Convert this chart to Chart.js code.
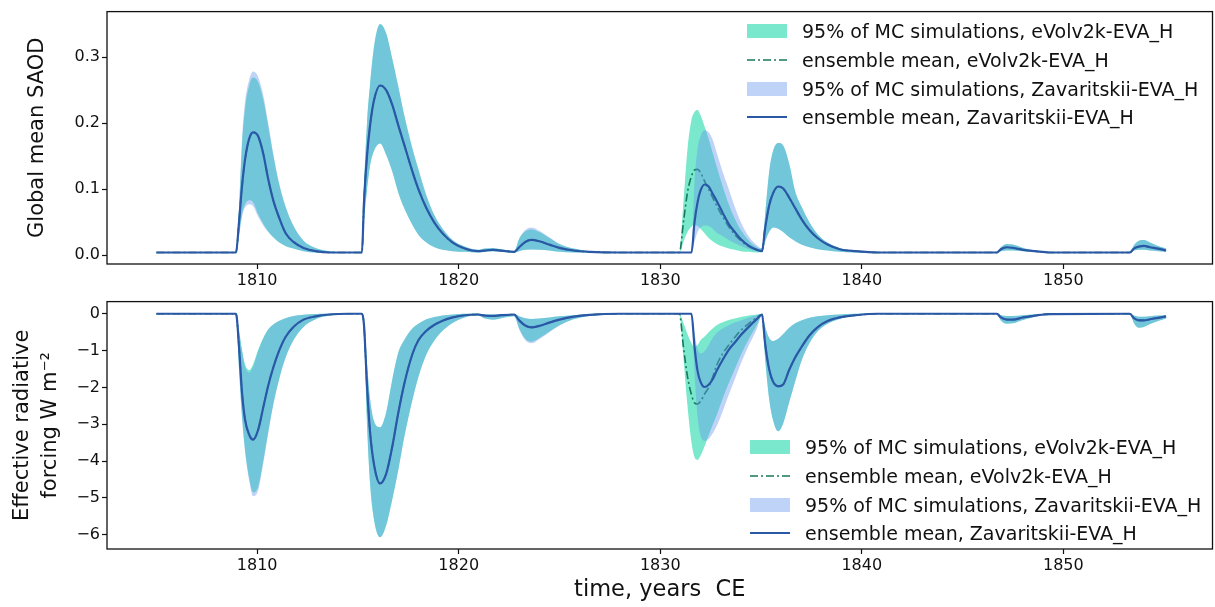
<!DOCTYPE html>
<html>
<head>
<meta charset="utf-8">
<script src="https://cdn.jsdelivr.net/npm/chart.js@4.4.1/dist/chart.umd.min.js"></script>
<style>
  html, body { margin: 0; padding: 0; background: #fff; }
  #wrap { position: relative; width: 1215px; height: 607px; font-family: 'DejaVu Sans', sans-serif; }
  canvas { position: absolute; left: 0; }
  #saod { top: 0; }
  #erf { top: 290px; }
  .lg-row { position: absolute; height: 28px; line-height: 28px; font-size: 19px; color: #111; white-space: nowrap; }
  .lg-row span { position: absolute; top: 0; }
  .lg-row .sw { position: absolute; top: 7px; width: 40px; height: 14px; }
</style>
</head>
<body>
<div id="wrap">
  <canvas id="saod" width="1215" height="290"></canvas>
  <canvas id="erf" width="1215" height="317"></canvas>
  <div id="legendTop"></div>
  <div id="legendBottom"></div>
</div>
<script>
// sample times (years CE), shared by both panels
const years = [
  1805.0, 1808.95, 1809.1, 1809.25, 1809.4, 1809.6, 1809.8, 1810.05, 1810.3, 1810.55, 1810.8, 1811.1, 1811.4, 1811.8, 1812.3, 1812.9, 1813.6, 1814.5,
  1815.2, 1815.3, 1815.45, 1815.6, 1815.8, 1816.1, 1816.4, 1816.7, 1817.0, 1817.3, 1817.7, 1818.0, 1818.4, 1818.8, 1819.2, 1819.7, 1820.3, 1820.95,
  1821.3, 1821.7, 1822.1, 1822.75,
  1823.0, 1823.3, 1823.6, 1824.0, 1824.5, 1825.0, 1825.7, 1826.5, 1828.0,
  1830.95, 1831.15, 1831.35, 1831.55, 1831.7, 1831.85, 1832.0, 1832.2, 1832.4, 1832.6, 1832.8, 1833.1, 1833.4, 1833.7, 1834.0, 1834.4, 1834.8,
  1835.05, 1835.2, 1835.4, 1835.6, 1835.85, 1836.1, 1836.4, 1836.7, 1837.0, 1837.4, 1837.8, 1838.3, 1838.9, 1839.7, 1840.8,
  1846.7, 1846.9, 1847.2, 1847.5, 1848.0, 1848.6, 1849.3,
  1853.3, 1853.5, 1853.75, 1854.0, 1854.3, 1854.7, 1855.1
];

const yearTicks = [1810, 1820, 1830, 1840, 1850];
const saodTicks = [0, 0.1, 0.2, 0.3];
const erfTicks = [-6, -5, -4, -3, -2, -1, 0];

const legendLabels = [
  '95% of MC simulations, eVolv2k-EVA_H',
  'ensemble mean, eVolv2k-EVA_H',
  '95% of MC simulations, Zavaritskii-EVA_H',
  'ensemble mean, Zavaritskii-EVA_H'
];

// --- global mean SAOD ---
const saodEvoUpper = [
  .004, .004, .070, .168, .222, .256, .269, .262, .236, .195, .151, .106, .074, .044, .022, .011, .006, .004,
  .004, .100, .200, .258, .316, .350, .336, .298, .256, .212, .162, .130, .090, .060, .040, .023, .013, .008,
  .010, .011, .009, .006,
  .025, .036, .039, .035, .026, .017, .010, .006, .004,
  .004, .080, .160, .205, .217, .220, .212, .195, .176, .155, .134, .104, .077, .055, .038, .022, .012,
  .010, .060, .125, .158, .170, .166, .138, .096, .074, .050, .032, .019, .011, .006, .004,
  .004, .012, .017, .016, .011, .007, .004,
  .004, .015, .022, .023, .019, .014, .010
];
const saodEvoLower = [
  .004, .004, .030, .062, .077, .083, .080, .062, .048, .036, .027, .019, .014, .010, .006, .004, .004, .004,
  .004, .050, .098, .135, .158, .169, .152, .127, .095, .071, .046, .031, .019, .012, .008, .006, .005, .004,
  .005, .006, .005, .004,
  .006, .008, .009, .008, .007, .005, .004, .004, .004,
  .004, .020, .035, .043, .046, .044, .040, .033, .026, .021, .017, .013, .010, .008, .006, .005, .004,
  .005, .020, .035, .042, .040, .035, .027, .021, .016, .012, .009, .007, .005, .004, .004,
  .004, .006, .007, .007, .006, .005, .004,
  .004, .007, .008, .008, .007, .006, .005
];
const saodEvoMean = [
  .004, .004, .050, .105, .145, .176, .186, .180, .154, .115, .083, .056, .034, .020, .011, .006, .004, .004,
  .004, .080, .150, .196, .235, .257, .250, .228, .197, .167, .127, .100, .071, .049, .033, .019, .010, .006,
  .007, .008, .007, .005,
  .012, .020, .023, .021, .016, .011, .007, .005, .004,
  .004, .050, .095, .120, .129, .130, .125, .112, .100, .087, .075, .058, .043, .031, .022, .013, .008,
  .006, .040, .075, .094, .104, .101, .087, .071, .055, .038, .026, .016, .009, .006, .004,
  .004, .009, .012, .011, .008, .006, .004,
  .004, .010, .013, .014, .012, .010, .007
];
const saodZavUpper = [
  .004, .004, .072, .175, .232, .265, .278, .270, .243, .200, .154, .108, .075, .045, .022, .011, .006, .004,
  .004, .100, .200, .258, .316, .350, .336, .298, .256, .212, .162, .130, .090, .060, .040, .023, .013, .008,
  .010, .011, .009, .006,
  .025, .038, .042, .037, .027, .017, .010, .006, .004,
  .004, .004, .004, .004, .110, .160, .180, .189, .186, .175, .155, .126, .100, .073, .050, .028, .015,
  .010, .060, .125, .158, .170, .166, .138, .096, .074, .050, .032, .019, .011, .006, .004,
  .004, .012, .017, .016, .011, .007, .004,
  .004, .015, .022, .023, .019, .014, .010
];
const saodZavLower = [
  .004, .004, .028, .058, .072, .077, .074, .058, .045, .035, .027, .019, .014, .010, .006, .004, .004, .004,
  .004, .050, .098, .135, .158, .169, .152, .127, .095, .071, .046, .031, .019, .012, .008, .006, .005, .004,
  .005, .006, .005, .004,
  .006, .008, .008, .008, .007, .005, .004, .004, .004,
  .004, .004, .004, .004, .020, .035, .042, .045, .044, .040, .034, .029, .023, .018, .014, .009, .006,
  .005, .020, .035, .042, .040, .035, .027, .021, .016, .012, .009, .007, .005, .004, .004,
  .004, .006, .007, .007, .006, .005, .004,
  .004, .007, .008, .008, .007, .006, .005
];
const saodZavMean = [
  .004, .004, .050, .105, .145, .176, .186, .180, .154, .115, .083, .056, .034, .020, .011, .006, .004, .004,
  .004, .080, .150, .196, .235, .257, .250, .228, .197, .167, .127, .100, .071, .049, .033, .019, .010, .006,
  .007, .008, .007, .005,
  .012, .020, .023, .021, .016, .011, .007, .005, .004,
  .004, .004, .004, .004, .050, .080, .098, .107, .104, .093, .082, .064, .047, .035, .024, .014, .008,
  .006, .040, .075, .094, .104, .101, .087, .071, .055, .038, .026, .016, .009, .006, .004,
  .004, .009, .012, .011, .008, .006, .004,
  .004, .010, .013, .014, .012, .010, .007
];

// --- effective radiative forcing, W m-2 ---
const erfEvoUpper = [
  0, 0, -0.45, -0.98, -1.38, -1.53, -1.37, -0.98, -0.66, -0.42, -0.29, -0.19, -0.12, -0.06, -0.03, -0.01, 0, 0,
  0, -0.25, -1.35, -2.30, -2.92, -3.08, -2.68, -1.80, -1.06, -0.71, -0.40, -0.27, -0.15, -0.09, -0.05, -0.02, 0, 0,
  -0.02, -0.02, -0.01, -0.01,
  -0.07, -0.12, -0.14, -0.13, -0.10, -0.07, -0.04, -0.01, 0,
  0, -0.25, -0.55, -0.80, -0.90, -0.85, -0.72, -0.62, -0.50, -0.40, -0.31, -0.23, -0.17, -0.13, -0.09, -0.05, -0.02,
  -0.01, -0.35, -0.65, -0.74, -0.68, -0.55, -0.38, -0.26, -0.18, -0.11, -0.07, -0.04, -0.02, 0, 0,
  0, -0.04, -0.06, -0.06, -0.04, -0.02, 0,
  0, -0.05, -0.08, -0.08, -0.07, -0.05, -0.04
];
const erfEvoLower = [
  0, 0, -1.50, -2.80, -3.70, -4.45, -4.85, -4.70, -4.00, -3.20, -2.45, -1.75, -1.20, -0.72, -0.36, -0.15, -0.05, 0,
  0, -0.50, -3.00, -4.60, -5.60, -6.07, -5.75, -5.05, -4.25, -3.35, -2.35, -1.72, -1.10, -0.72, -0.46, -0.25, -0.10, -0.04,
  -0.13, -0.16, -0.12, -0.07,
  -0.40, -0.68, -0.76, -0.66, -0.48, -0.31, -0.15, -0.06, 0,
  0, -1.20, -2.50, -3.50, -3.90, -3.97, -3.85, -3.60, -3.30, -3.02, -2.75, -2.30, -1.88, -1.50, -1.12, -0.68, -0.30,
  -0.05, -1.20, -2.30, -2.90, -3.19, -2.98, -2.40, -1.83, -1.29, -0.80, -0.48, -0.27, -0.14, -0.05, 0,
  0, -0.18, -0.27, -0.26, -0.17, -0.08, -0.02,
  0, -0.25, -0.38, -0.36, -0.28, -0.20, -0.13
];
const erfEvoMean = [
  0, 0, -0.90, -2.15, -2.88, -3.28, -3.42, -3.15, -2.55, -1.95, -1.46, -0.99, -0.64, -0.36, -0.16, -0.07, -0.02, 0,
  0, -0.30, -1.95, -3.20, -4.10, -4.61, -4.35, -3.62, -2.70, -1.90, -1.10, -0.72, -0.46, -0.30, -0.19, -0.10, -0.04, -0.02,
  -0.05, -0.06, -0.04, -0.02,
  -0.18, -0.32, -0.37, -0.33, -0.24, -0.16, -0.08, -0.03, 0,
  0, -0.90, -1.70, -2.20, -2.42, -2.45, -2.38, -2.18, -2.00, -1.72, -1.40, -1.08, -0.85, -0.64, -0.45, -0.26, -0.10,
  -0.02, -0.80, -1.50, -1.85, -1.97, -1.92, -1.52, -1.18, -0.91, -0.59, -0.37, -0.20, -0.10, -0.04, 0,
  0, -0.10, -0.16, -0.16, -0.10, -0.05, -0.01,
  0, -0.12, -0.18, -0.18, -0.15, -0.11, -0.07
];
const erfZavUpper = [
  0, 0, -0.47, -1.02, -1.44, -1.60, -1.43, -1.02, -0.68, -0.43, -0.29, -0.19, -0.12, -0.06, -0.03, -0.01, 0, 0,
  0, -0.25, -1.35, -2.30, -2.92, -3.08, -2.68, -1.80, -1.06, -0.71, -0.40, -0.27, -0.15, -0.09, -0.05, -0.02, 0, 0,
  -0.02, -0.02, -0.01, -0.01,
  -0.07, -0.12, -0.14, -0.13, -0.10, -0.07, -0.04, -0.01, 0,
  0, 0, 0, 0, -0.50, -0.95, -1.08, -1.02, -0.85, -0.66, -0.52, -0.40, -0.31, -0.24, -0.18, -0.10, -0.04,
  -0.01, -0.35, -0.65, -0.74, -0.68, -0.55, -0.38, -0.26, -0.18, -0.11, -0.07, -0.04, -0.02, 0, 0,
  0, -0.04, -0.06, -0.06, -0.04, -0.02, 0,
  0, -0.05, -0.08, -0.08, -0.07, -0.05, -0.04
];
const erfZavLower = [
  0, 0, -1.55, -2.85, -3.75, -4.52, -4.95, -4.80, -4.08, -3.25, -2.48, -1.77, -1.21, -0.72, -0.36, -0.15, -0.05, 0,
  0, -0.50, -3.00, -4.60, -5.60, -6.07, -5.75, -5.05, -4.25, -3.35, -2.35, -1.72, -1.10, -0.72, -0.46, -0.25, -0.10, -0.04,
  -0.13, -0.16, -0.12, -0.07,
  -0.42, -0.71, -0.80, -0.69, -0.50, -0.32, -0.15, -0.06, 0,
  0, 0, 0, 0, -1.60, -2.80, -3.30, -3.45, -3.40, -3.25, -3.05, -2.65, -2.20, -1.78, -1.35, -0.85, -0.40,
  -0.05, -1.20, -2.30, -2.90, -3.19, -2.98, -2.40, -1.83, -1.29, -0.80, -0.48, -0.27, -0.14, -0.05, 0,
  0, -0.18, -0.27, -0.26, -0.17, -0.08, -0.02,
  0, -0.25, -0.38, -0.36, -0.28, -0.20, -0.13
];
const erfZavMean = [
  0, 0, -0.90, -2.15, -2.88, -3.28, -3.42, -3.15, -2.55, -1.95, -1.46, -0.99, -0.64, -0.36, -0.16, -0.07, -0.02, 0,
  0, -0.30, -1.95, -3.20, -4.10, -4.61, -4.35, -3.62, -2.70, -1.90, -1.10, -0.72, -0.46, -0.30, -0.19, -0.10, -0.04, -0.02,
  -0.05, -0.06, -0.04, -0.02,
  -0.18, -0.32, -0.37, -0.33, -0.24, -0.16, -0.08, -0.03, 0,
  0, 0, 0, 0, -0.90, -1.55, -1.85, -1.99, -1.93, -1.78, -1.55, -1.25, -0.98, -0.78, -0.58, -0.35, -0.14,
  -0.02, -0.80, -1.50, -1.85, -1.97, -1.92, -1.52, -1.18, -0.91, -0.59, -0.37, -0.20, -0.10, -0.04, 0,
  0, -0.10, -0.16, -0.16, -0.10, -0.05, -0.01,
  0, -0.12, -0.18, -0.18, -0.15, -0.11, -0.07
];

const evoBand = 'rgb(122, 232, 204)';
const zavBand = 'rgba(100, 149, 237, 0.42)';
const evoLine = '#17795a';
const zavLine = '#2a58a6';
const evoDash = [8, 3, 2, 3];
const FONT = "'DejaVu Sans', sans-serif";

const pts = arr => years.map((x, i) => ({ x: x, y: arr[i] }));
const minus = v => (v < 0 ? '\u2212' + Math.abs(v) : String(v));

const frame = {
  id: 'frame',
  afterDraw(chart) {
    const { ctx, chartArea: a } = chart;
    ctx.save();
    ctx.strokeStyle = '#111';
    ctx.lineWidth = 1.3;
    ctx.strokeRect(a.left, a.top, a.right - a.left, a.bottom - a.top);
    ctx.restore();
  }
};

function band(upper, lower, color, order) {
  return [
    { data: pts(upper), fill: '+1', backgroundColor: color, borderColor: 'transparent', borderWidth: 0, pointRadius: 0, order: order },
    { data: pts(lower), fill: false, borderColor: 'transparent', borderWidth: 0, pointRadius: 0, order: order }
  ];
}

function panel(id, s, opt) {
  return new Chart(document.getElementById(id), {
    type: 'line',
    data: {
      datasets: [
        ...band(s.evoUp, s.evoLo, evoBand, 4),
        { data: pts(s.evoMean), borderColor: evoLine, borderWidth: 1.6, borderDash: evoDash, pointRadius: 0, fill: false, order: 3 },
        ...band(s.zavUp, s.zavLo, zavBand, 2),
        { data: pts(s.zavMean), borderColor: zavLine, borderWidth: 2.2, pointRadius: 0, fill: false, order: 1 }
      ]
    },
    options: {
      responsive: false,
      animation: false,
      cubicInterpolationMode: 'monotone',
      layout: { padding: opt.padding },
      plugins: { legend: { display: false }, tooltip: { enabled: false } },
      scales: {
        x: {
          type: 'linear', min: 1802.55, max: 1857.4,
          afterBuildTicks: sc => { sc.ticks = yearTicks.map(v => ({ value: v })); },
          afterFit: sc => { sc.height = opt.xHeight; },
          ticks: { autoSkip: false, maxRotation: 0, padding: 2, color: '#111', font: { family: FONT, size: 16 }, callback: v => String(v) },
          grid: { drawOnChartArea: false, tickLength: 5, tickColor: '#111', tickWidth: 1.2 },
          border: { display: false },
          title: opt.xTitle
        },
        y: {
          type: 'linear', min: opt.yMin, max: opt.yMax,
          afterBuildTicks: sc => { sc.ticks = opt.yTicks.map(v => ({ value: v })); },
          afterFit: sc => { sc.width = 107; },
          ticks: { autoSkip: false, padding: 2, color: '#111', font: { family: FONT, size: 16 }, callback: opt.yFmt },
          grid: { drawOnChartArea: false, tickLength: 5, tickColor: '#111', tickWidth: 1.2 },
          border: { display: false },
          title: opt.yTitle
        }
      }
    },
    plugins: [frame]
  });
}

panel('saod', {
  evoUp: saodEvoUpper, evoLo: saodEvoLower, evoMean: saodEvoMean,
  zavUp: saodZavUpper, zavLo: saodZavLower, zavMean: saodZavMean
}, {
  padding: { left: 0, top: 7, right: 2.5, bottom: 0 },
  xHeight: 26,
  yMin: -0.0134, yMax: 0.3689,
  yTicks: saodTicks,
  yFmt: v => v.toFixed(1),
  xTitle: { display: false },
  yTitle: { display: true, text: 'Global mean SAOD', color: '#111', font: { family: FONT, size: 21 }, padding: { top: 25, bottom: 0 } }
});

panel('erf', {
  evoUp: erfEvoUpper, evoLo: erfEvoLower, evoMean: erfEvoMean,
  zavUp: erfZavUpper, zavLo: erfZavLower, zavMean: erfZavMean
}, {
  padding: { left: 0, top: 3, right: 2.5, bottom: 0 },
  xHeight: 58,
  yMin: -6.39, yMax: 0.33,
  yTicks: erfTicks,
  yFmt: minus,
  xTitle: { display: true, text: 'time, years  CE', color: '#111', font: { family: FONT, size: 22.5 }, padding: { top: 0, bottom: 3.5 } },
  yTitle: { display: true, text: ['Effective radiative', 'forcing W m\u207B\u00B2'], color: '#111', font: { family: FONT, size: 21, lineHeight: 1.35 }, padding: { top: 8, bottom: 0 } }
});

// legends (matplotlib style, upper right / lower right inside the axes)
const legendKinds = [
  { type: 'band', color: evoBand },
  { type: 'line', color: evoLine, dash: evoDash, width: 1.6 },
  { type: 'band', color: zavBand },
  { type: 'line', color: zavLine, width: 2.2 }
];

function legend(el, left, rowCenters) {
  legendLabels.forEach((label, i) => {
    const row = document.createElement('div');
    row.className = 'lg-row';
    row.style.left = left + 'px';
    row.style.top = (rowCenters[i] - 14) + 'px';
    const k = legendKinds[i];
    let sw;
    if (k.type === 'band') {
      sw = document.createElement('div');
      sw.style.background = k.color;
    } else {
      sw = document.createElementNS('http://www.w3.org/2000/svg', 'svg');
      sw.setAttribute('width', 40); sw.setAttribute('height', 14);
      const ln = document.createElementNS('http://www.w3.org/2000/svg', 'line');
      ln.setAttribute('x1', 0); ln.setAttribute('x2', 40);
      ln.setAttribute('y1', 7); ln.setAttribute('y2', 7);
      ln.setAttribute('stroke', k.color);
      ln.setAttribute('stroke-width', k.width);
      if (k.dash) ln.setAttribute('stroke-dasharray', k.dash.join(' '));
      sw.appendChild(ln);
    }
    sw.setAttribute('class', 'sw');
    row.appendChild(sw);
    const t = document.createElement('span');
    t.style.left = '55px';
    t.textContent = label;
    row.appendChild(t);
    el.appendChild(row);
  });
}

legend(document.getElementById('legendTop'), 747, [31, 60, 89, 117]);
legend(document.getElementById('legendBottom'), 750, [447, 476, 504.5, 533]);
</script>
</body>
</html>
